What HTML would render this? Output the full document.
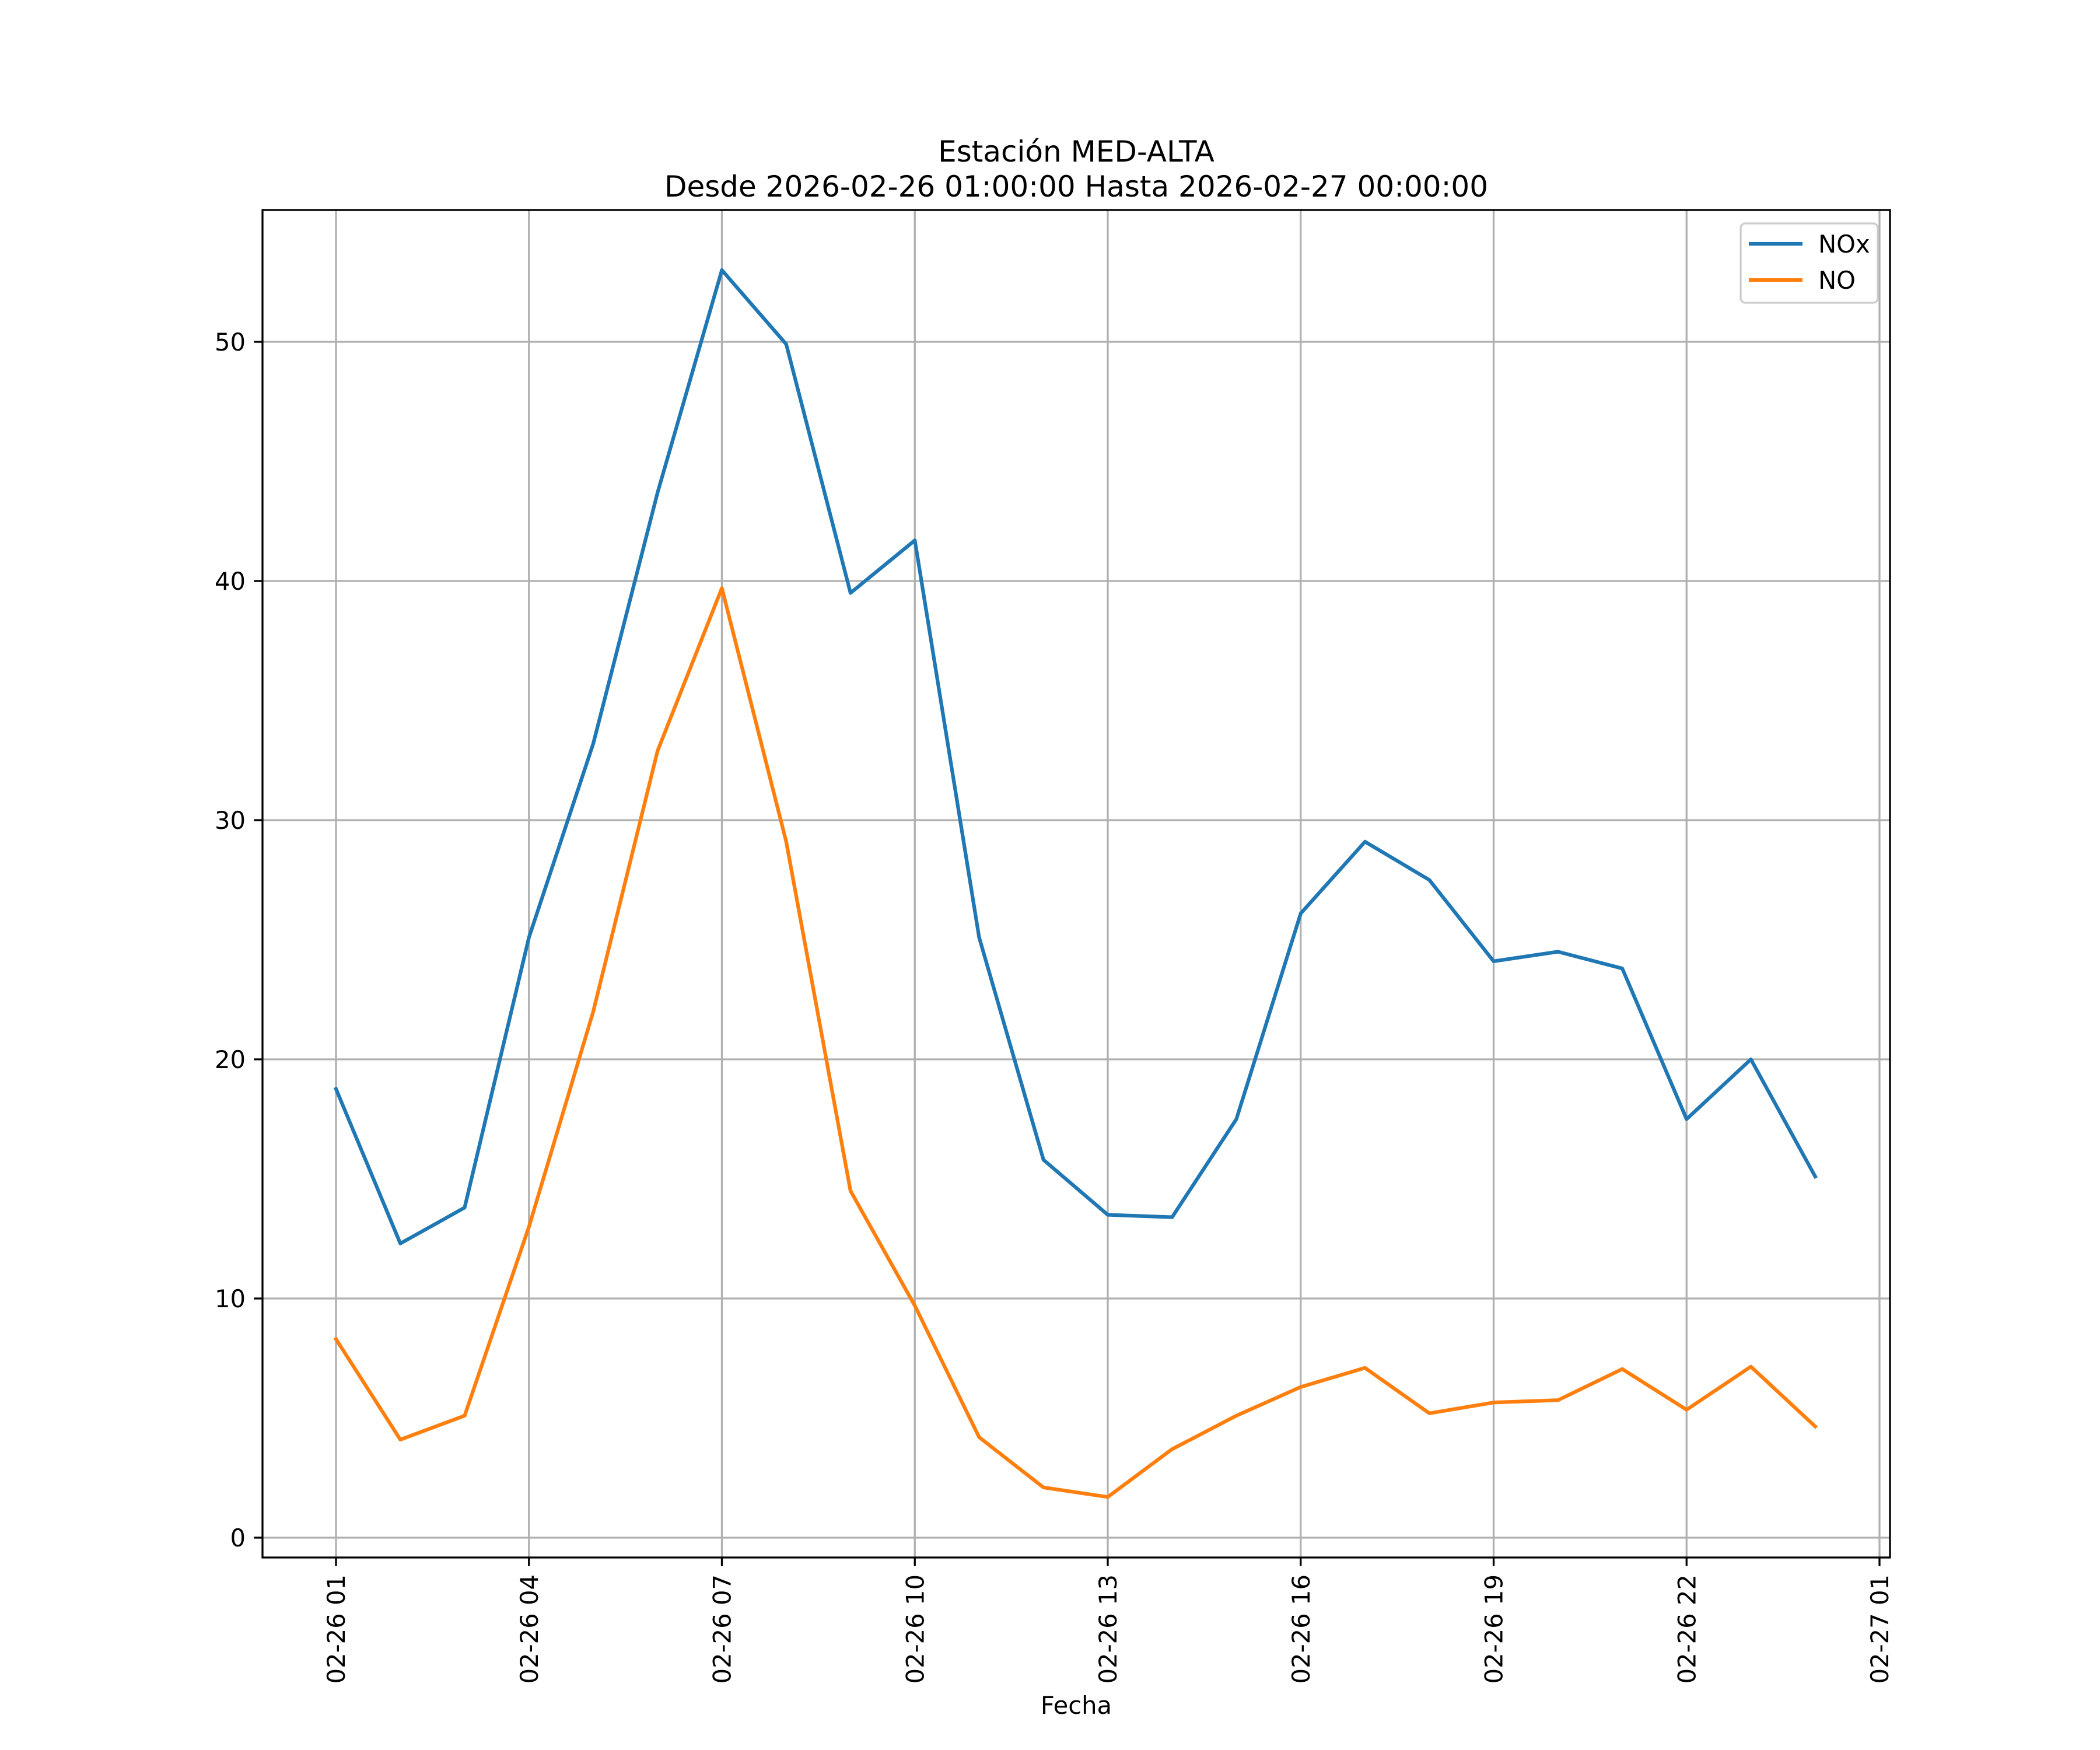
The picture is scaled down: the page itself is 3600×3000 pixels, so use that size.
<!DOCTYPE html>
<html><head><meta charset="utf-8"><style>
html,body{margin:0;padding:0;background:#fff}
svg{display:block;font-family:"DejaVu Sans","Liberation Sans",sans-serif}
</style></head><body>
<svg id="chart" width="3600" height="3000" viewBox="0 0 3600 3000" xmlns="http://www.w3.org/2000/svg">
<rect width="3600" height="3000" fill="#fff"/>
<text x="1845" y="277" font-size="50" text-anchor="middle">Estación MED-ALTA</text>
<text x="1845" y="337" font-size="50" text-anchor="middle">Desde 2026-02-26 01:00:00 Hasta 2026-02-27 00:00:00</text>
<g id="grid"></g>
<g id="series"></g>
<rect x="450" y="360" width="2790" height="2310" fill="none" stroke="#000" stroke-width="3.3"/>
<g id="axes"></g>
<text x="1845" y="2938" font-size="41.7" text-anchor="middle">Fecha</text>
<g>
<rect x="2984" y="383" width="235" height="136" rx="8" fill="#fff" fill-opacity="0.8" stroke="#ccc" stroke-width="3.3"/>
<line x1="2998" y1="418" x2="3090" y2="418" stroke="#1f77b4" stroke-width="6.25"/>
<text x="3117" y="433" font-size="41.7">NOx</text>
<line x1="2998" y1="480" x2="3090" y2="480" stroke="#ff7f0e" stroke-width="6.25"/>
<text x="3117" y="495" font-size="41.7">NO</text>
</g>
</svg>
<script>
const hours = [1,2,3,4,5,6,7,8,9,10,11,12,13,14,15,16,17,18,19,20,21,22,23,24];
const noxValues = [18.76,12.3,13.8,25.1,33.2,43.7,53.0,49.9,39.5,41.7,25.1,15.8,13.5,13.4,17.5,26.1,29.1,27.5,24.1,24.5,23.8,17.5,20.0,15.1];
const noValues = [8.3,4.1,5.1,13.0,22.0,32.9,39.7,29.1,14.5,9.7,4.2,2.1,1.7,3.7,5.1,6.3,7.1,5.2,5.65,5.75,7.05,5.35,7.15,4.65];
const xTickHours = [1,4,7,10,13,16,19,22,25];
const xTickLabels = ["02-26 01","02-26 04","02-26 07","02-26 10","02-26 13","02-26 16","02-26 19","02-26 22","02-27 01"];
const yTicks = [0,10,20,30,40,50];

const NS="http://www.w3.org/2000/svg";
const L=450,R=3240,T=360,B=2670;
const xs=h=>576+(h-1)*110.25;
const ys=v=>2636-v*41.0;
function mk(tag,attrs,parent){const e=document.createElementNS(NS,tag);for(const k in attrs)e.setAttribute(k,attrs[k]);parent.appendChild(e);return e;}
const grid=document.getElementById('grid'),axes=document.getElementById('axes'),series=document.getElementById('series');
xTickHours.forEach((h,i)=>{
  const x=xs(h);
  const g=mk('line',{x1:x,x2:x,y1:T,y2:B,stroke:'#b0b0b0','stroke-width':3.3},grid);
  
  
  const t=mk('line',{x1:x,x2:x,y1:B,y2:B+14.6,stroke:'#000','stroke-width':3.3},axes);
  
  
  const lb=mk('text',{x:0,y:0,'font-size':41.7,'text-anchor':'end',transform:`translate(${x+15},${B+29}) rotate(-90)`},axes);
  lb.textContent=xTickLabels[i];
  
  
});
yTicks.forEach(v=>{
  const y=ys(v);
  const g=mk('line',{x1:L,x2:R,y1:y,y2:y,stroke:'#b0b0b0','stroke-width':3.3},grid);
  
  
  const t=mk('line',{x1:L-14.6,x2:L,y1:y,y2:y,stroke:'#000','stroke-width':3.3},axes);
  
  
  const lb=mk('text',{x:L-29,y:y+15,'font-size':41.7,'text-anchor':'end'},axes);
  lb.textContent=String(v);
  
  
});
function line(vals,color,name){
  const pts=hours.map((h,i)=>xs(h).toFixed(1)+','+ys(vals[i]).toFixed(1)).join(' ');
  const p=mk('polyline',{points:pts,fill:'none',stroke:color,'stroke-width':6.25,'stroke-linejoin':'round','stroke-linecap':'square'},series);
  
  
}
line(noxValues,'#1f77b4','nox-line');
line(noValues,'#ff7f0e','no-line');
</script>
</body></html>
